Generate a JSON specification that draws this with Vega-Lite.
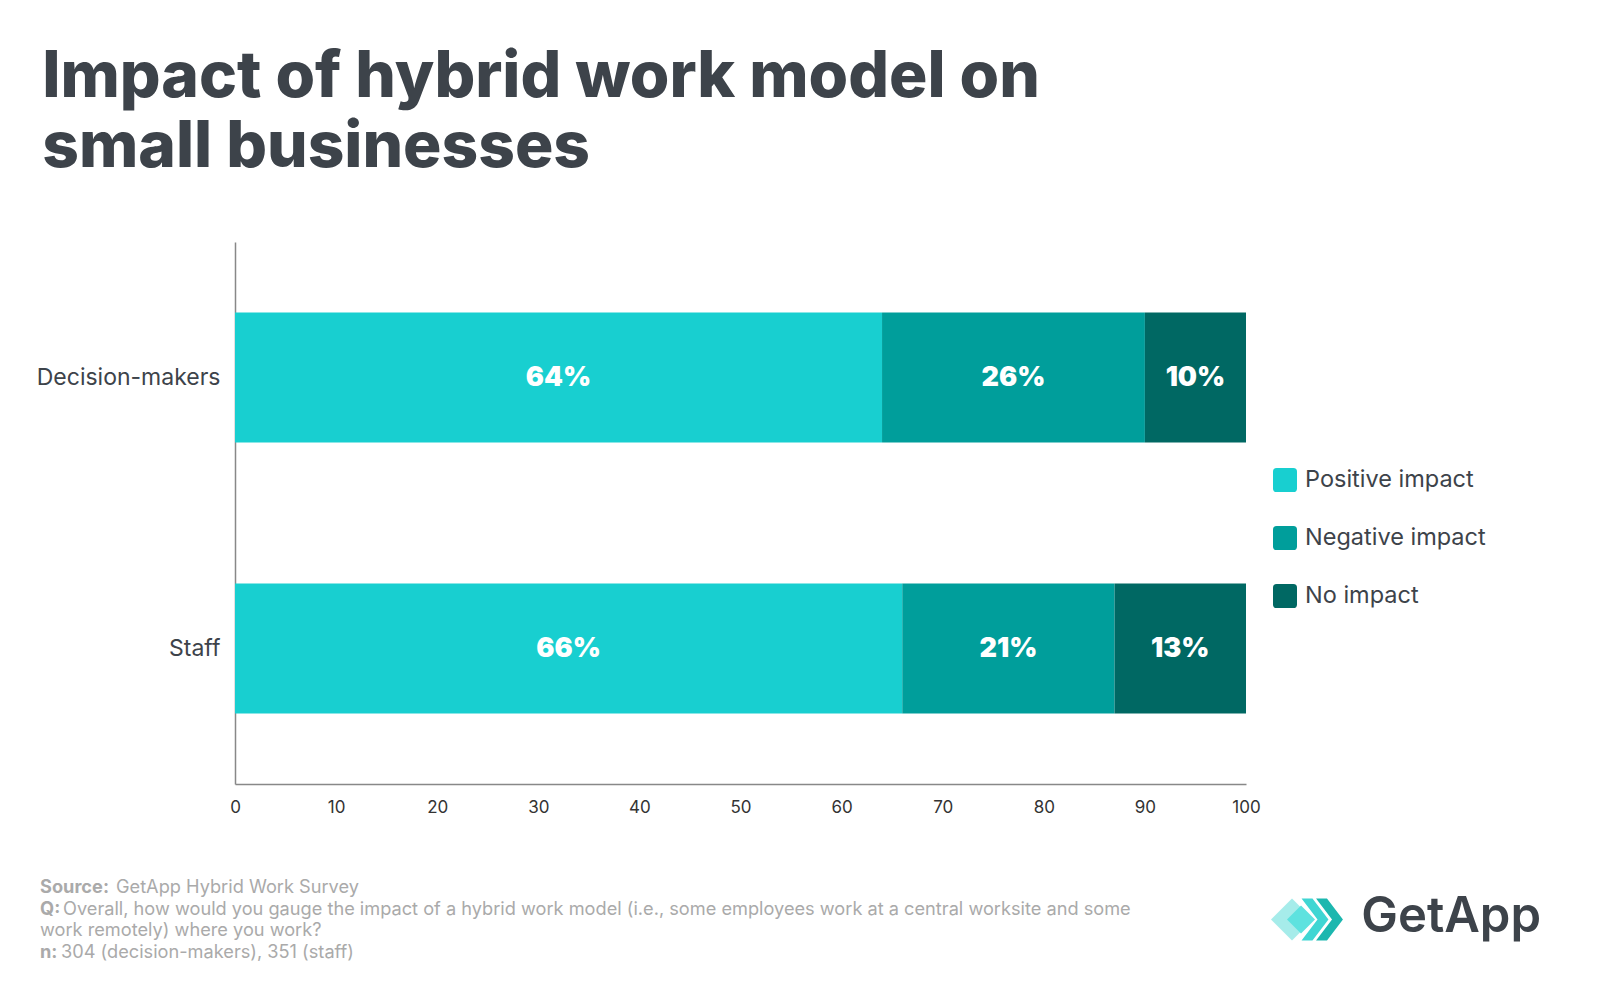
{
  "$schema": "https://vega.github.io/schema/vega-lite/v6.json",
  "background": "white",
  "padding": {"left": 36, "top": 46, "right": 0, "bottom": 0},
  "config": {"view": {"stroke": null}, "font": "Inter"},
  "title": {
    "text": ["Impact of hybrid work model on", "small businesses"],
    "anchor": "start",
    "frame": "bounds",
    "font": "Inter",
    "fontWeight": 800,
    "fontSize": 64,
    "lineHeight": 70,
    "color": "#3d434a",
    "dx": 6,
    "offset": 62,
    "baseline": "top"
  },
  "spacing": 63,
  "resolve": {"scale": {"color": "independent"}, "legend": {"color": "independent"}},
  "vconcat": [
    {
      "width": 1011,
      "height": 542,
      "data": {
        "values": [
          {"group": "Decision-makers", "impact": "Positive impact", "value": 64, "rank": 1, "label": "64%"},
          {"group": "Decision-makers", "impact": "Negative impact", "value": 26, "rank": 2, "label": "26%"},
          {"group": "Decision-makers", "impact": "No impact", "value": 10, "rank": 3, "label": "10%"},
          {"group": "Staff", "impact": "Positive impact", "value": 66, "rank": 1, "label": "66%"},
          {"group": "Staff", "impact": "Negative impact", "value": 21, "rank": 2, "label": "21%"},
          {"group": "Staff", "impact": "No impact", "value": 13, "rank": 3, "label": "13%"}
        ]
      },
      "encoding": {
        "y": {
          "field": "group",
          "type": "nominal",
          "sort": ["Decision-makers", "Staff"],
          "scale": {"paddingInner": 0.52, "paddingOuter": 0.26},
          "title": null,
          "axis": {
            "ticks": false,
            "labelFontSize": 23,
            "labelColor": "#3d434a",
            "labelPadding": 15,
            "labelFont": "Inter",
            "labelLimit": 300,
            "domainColor": "#888888",
            "domainWidth": 1.5
          }
        }
      },
      "layer": [
        {
          "mark": {"type": "bar"},
          "encoding": {
            "x": {
              "field": "value",
              "type": "quantitative",
              "stack": "zero",
              "scale": {"domain": [0, 100], "nice": false},
              "title": null,
              "axis": {
                "values": [0, 10, 20, 30, 40, 50, 60, 70, 80, 90, 100],
                "grid": false,
                "ticks": false,
                "labelFontSize": 17,
                "labelColor": "#333333",
                "labelPadding": 15,
                "labelFont": "Inter",
                "labelFlush": false,
                "domainColor": "#888888",
                "domainWidth": 1.5
              }
            },
            "color": {
              "field": "impact",
              "type": "nominal",
              "sort": ["Positive impact", "Negative impact", "No impact"],
              "scale": {
                "domain": ["Positive impact", "Negative impact", "No impact"],
                "range": ["#18cfd0", "#009e9b", "#006863"]
              },
              "legend": {
                "title": null,
                "orient": "none",
                "legendX": 1038,
                "legendY": 226,
                "padding": 0,
                "symbolType": "M-0.7,-1L0.7,-1Q1,-1 1,-0.7L1,0.7Q1,1 0.7,1L-0.7,1Q-1,1 -1,0.7L-1,-0.7Q-1,-1 -0.7,-1Z",
                "symbolSize": 576,
                "symbolStrokeWidth": 0,
                "symbolOpacity": 1,
                "labelFontSize": 23.5,
                "labelFont": "Inter",
                "labelColor": "#3d434a",
                "labelOffset": 8,
                "labelLimit": 400,
                "rowPadding": 34
              }
            },
            "order": {"field": "rank", "type": "quantitative"}
          }
        },
        {
          "mark": {
            "type": "text",
            "color": "white",
            "font": "Inter",
            "fontWeight": 900,
            "fontSize": 27,
            "align": "center",
            "baseline": "middle"
          },
          "encoding": {
            "x": {"field": "value", "type": "quantitative", "stack": "zero", "bandPosition": 0.5},
            "detail": {"field": "impact"},
            "order": {"field": "rank", "type": "quantitative"},
            "text": {"field": "label"}
          }
        }
      ]
    },
    {
      "width": 1306,
      "height": 64.5,
      "data": {
        "values": [
          {"line": 1, "anchor": "left", "prefix": "Source:", "rest": "GetApp Hybrid Work Survey"},
          {"line": 2, "anchor": "left", "prefix": "Q:", "rest": "Overall, how would you gauge the impact of a hybrid work model (i.e., some employees work at a central worksite and some"},
          {"line": 3, "anchor": "left", "prefix": "", "rest": "work remotely) where you work?"},
          {"line": 4, "anchor": "left", "prefix": "n:", "rest": "304 (decision-makers), 351 (staff)"},
          {"line": 2, "anchor": "right", "prefix": "", "rest": ""}
        ]
      },
      "encoding": {
        "x": {"field": "anchor", "type": "nominal", "scale": {"type": "point", "domain": ["left", "right"], "range": [-195, 1306], "padding": 0}, "axis": null},
        "y": {"field": "line", "type": "ordinal", "scale": {"type": "point", "domain": [1, 2, 3, 4], "padding": 0}, "axis": null}
      },
      "layer": [
        {
          "transform": [{"filter": "datum.anchor == 'left'"}],
          "mark": {"type": "text", "font": "Inter", "fontWeight": 700, "fontSize": 18.2, "color": "#aaaaaa", "align": "left", "baseline": "middle"},
          "encoding": {"text": {"field": "prefix"}}
        },
        {
          "transform": [{"filter": "datum.anchor == 'left' && datum.line == 1"}],
          "mark": {"type": "text", "font": "Inter", "fontSize": 18.2, "color": "#aaaaaa", "align": "left", "baseline": "middle", "dx": 76},
          "encoding": {"text": {"field": "rest"}}
        },
        {
          "transform": [{"filter": "datum.anchor == 'left' && datum.line == 2"}],
          "mark": {"type": "text", "font": "Inter", "fontSize": 18.2, "color": "#aaaaaa", "align": "left", "baseline": "middle", "dx": 23},
          "encoding": {"text": {"field": "rest"}}
        },
        {
          "transform": [{"filter": "datum.anchor == 'left' && datum.line == 3"}],
          "mark": {"type": "text", "font": "Inter", "fontSize": 18.2, "color": "#aaaaaa", "align": "left", "baseline": "middle"},
          "encoding": {"text": {"field": "rest"}}
        },
        {
          "transform": [{"filter": "datum.anchor == 'left' && datum.line == 4"}],
          "mark": {"type": "text", "font": "Inter", "fontSize": 18.2, "color": "#aaaaaa", "align": "left", "baseline": "middle", "dx": 21},
          "encoding": {"text": {"field": "rest"}}
        },
        {
          "transform": [{"filter": "datum.anchor == 'right'"}],
          "mark": {"type": "point", "filled": true, "opacity": 1, "strokeWidth": 0, "color": "#a6ecea", "size": 1764, "xOffset": -249, "yOffset": 10,
            "shape": "M0,-1L1,0L0,1L-1,0Z"}
        },
        {
          "transform": [{"filter": "datum.anchor == 'right'"}],
          "mark": {"type": "point", "filled": true, "opacity": 1, "strokeWidth": 0, "color": "#5ee2df", "size": 784, "xOffset": -240, "yOffset": 10,
            "shape": "M0,-1L1,0L0,1L-1,0Z"}
        },
        {
          "transform": [{"filter": "datum.anchor == 'right'"}],
          "mark": {"type": "point", "filled": true, "opacity": 1, "strokeWidth": 0, "color": "#3fd6d3", "size": 1764, "xOffset": -226, "yOffset": 10,
            "shape": "M-0.64,-1L-0.12,-1L0.64,0L-0.12,1L-0.64,1L0.12,0Z"}
        },
        {
          "transform": [{"filter": "datum.anchor == 'right'"}],
          "mark": {"type": "point", "filled": true, "opacity": 1, "strokeWidth": 0, "color": "#1cb7af", "size": 1764, "xOffset": -211.5, "yOffset": 10,
            "shape": "M-0.64,-1L-0.12,-1L0.64,0L-0.12,1L-0.64,1L0.12,0Z"}
        },
        {
          "transform": [{"filter": "datum.anchor == 'right'"}],
          "mark": {"type": "text", "text": "GetApp", "font": "Inter", "fontWeight": 600, "fontSize": 49, "color": "#3d434a", "align": "right", "baseline": "alphabetic", "dy": 22}
        }
      ]
    }
  ]
}
